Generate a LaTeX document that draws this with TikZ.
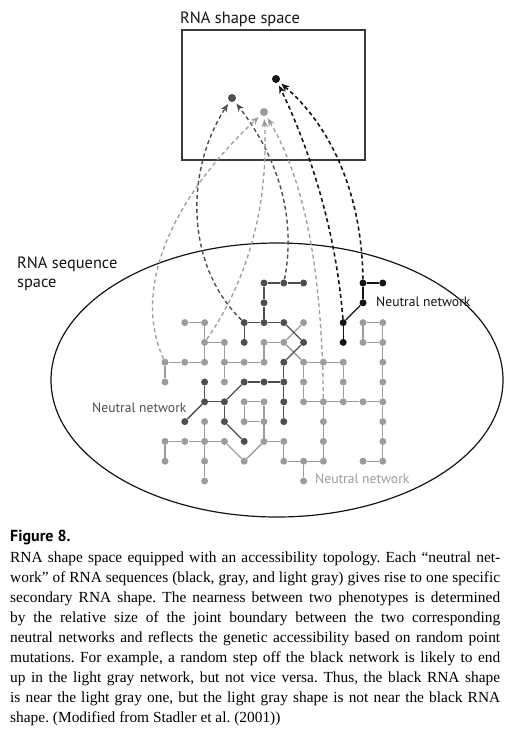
\documentclass[tikz,border=0pt]{standalone}
\usepackage{fontspec}
\setmainfont{Liberation Serif}
\newfontfamily\lab{PT Sans}
\usetikzlibrary{arrows.meta,shapes.geometric}
\definecolor{cblack}{HTML}{141414}
\definecolor{cdark}{HTML}{4E4E4E}
\definecolor{clight}{HTML}{9C9C9C}
\definecolor{cbox}{HTML}{3A3A3A}
\frenchspacing
\begin{document}
\frenchspacing
\begin{tikzpicture}[x=1pt,y=-1pt,
  nb/.style={circle,fill=cblack,inner sep=0pt,minimum size=7pt},
  nd/.style={circle,fill=cdark,inner sep=0pt,minimum size=7pt},
  nl/.style={circle,fill=clight,inner sep=0pt,minimum size=7pt},
  eb/.style={draw=cblack,line width=1.3pt},
  ed/.style={draw=cdark,line width=1.3pt},
  el/.style={draw=clight,line width=1.3pt},
  tip/.style={-{Stealth[length=8pt,width=6.5pt,inset=2.5pt]}},
  ab/.style={tip,draw=cblack,line width=1.6pt,dash pattern=on 4pt off 3pt,shorten >=3pt},
  ad/.style={tip,draw=cdark,line width=1.4pt,dash pattern=on 4pt off 3pt,shorten >=3pt},
  al/.style={tip,draw=clight,line width=1.3pt,dash pattern=on 4pt off 3pt,shorten >=3pt},
  lbl/.style={font=\lab\fontsize{16.4}{18}\selectfont,inner sep=0pt,anchor=base west},
  nnl/.style={font=\lab\fontsize{13.6}{15}\selectfont,inner sep=0pt,anchor=base west},
  captxt/.style={font=\fontsize{15.4}{19.8}\selectfont\frenchspacing,inner sep=0pt,anchor=base west}
]
\useasboundingbox (0,0) rectangle (508,732);

% shape space box
\node[draw=cbox,line width=1.5pt,minimum width=183pt,minimum height=130pt,inner sep=0pt] (box) at (273.5,95) {};
\node[lbl,text=cblack] (tshape) at (180,23) {RNA shape space};

% sequence space ellipse
\node[draw=cblack,line width=1.2pt,ellipse,minimum width=452pt,minimum height=274pt,inner sep=0pt] (seq) at (277,380) {};
\node[lbl,text=cblack] (tseq1) at (17,268) {RNA sequence};
\node[lbl,text=cblack] (tseq2) at (17,287) {space};

% shape dots
\node[nb,minimum size=8pt] (sb) at (276,79) {};
\node[nd,minimum size=8pt] (sd) at (232,98) {};
\node[nl,minimum size=8pt] (sl) at (264,112) {};

% network nodes
\foreach \i/\j in {10/0,11/0,10/1,9/2,9/3}
  \node[nb] (n\i-\j) at ({165+19.8*\i},{283+19.8*\j}) {};
\foreach \i/\j in {5/0,6/0,7/0,5/1,4/2,5/2,6/2,4/3,7/3,6/4,2/5,4/5,5/5,6/5,2/6,3/6,6/6,1/7,3/7,6/7,4/8}
  \node[nd] (n\i-\j) at ({165+19.8*\i},{283+19.8*\j}) {};
\foreach \i/\j in {1/2,2/2,7/2,10/2,11/2,2/3,3/3,5/3,6/3,10/3,11/3,0/4,1/4,2/4,3/4,4/4,5/4,7/4,8/4,9/4,11/4,0/5,3/5,7/5,9/5,11/5,4/6,5/6,7/6,8/6,9/6,10/6,11/6,2/7,4/7,5/7,8/7,11/7,0/8,1/8,2/8,3/8,5/8,6/8,8/8,11/8,0/9,2/9,4/9,6/9,7/9,8/9,10/9,11/9,2/10,7/10}
  \node[nl] (n\i-\j) at ({165+19.8*\i},{283+19.8*\j}) {};

% edges
\foreach \a/\b in {1-2/2-2,2-2/2-3,2-3/2-4,2-3/3-3,3-3/3-4,3-4/3-5,0-4/1-4,1-4/2-4,3-4/4-4,4-4/5-4,5-3/5-4,5-3/6-3,7-2/6-3,6-3/7-4,7-4/8-4,8-4/9-4,0-4/0-5,7-4/7-5,7-5/7-6,9-4/9-5,9-5/9-6,7-6/8-6,8-6/9-6,9-6/10-6,10-6/11-6,10-2/11-2,10-2/10-3,10-3/11-3,11-2/11-3,11-3/11-4,11-4/11-5,11-5/11-6,11-6/11-7,11-7/11-8,11-8/11-9,10-9/11-9,8-6/8-7,8-7/8-8,8-8/8-9,6-9/7-9,7-9/8-9,7-9/7-10,6-8/6-9,5-8/6-8,4-6/5-6,4-6/4-7,4-7/5-7,5-6/5-7,5-7/5-8,3-8/4-9,4-9/5-8,0-8/1-8,1-8/2-8,2-8/3-8,0-8/0-9,2-7/2-8,2-8/2-9,2-9/2-10}
  \draw[el] (n\a) -- (n\b);
\foreach \a/\b in {5-0/6-0,6-0/7-0,5-0/5-1,5-1/5-2,4-2/5-2,5-2/6-2,4-2/4-3,6-2/7-3,7-3/6-4,6-4/6-5,5-5/6-5,4-5/5-5,6-5/6-6,6-6/6-7,3-6/4-5,2-5/2-6,2-6/3-6,2-6/1-7,3-6/3-7,3-7/4-8}
  \draw[ed] (n\a) -- (n\b);
\foreach \a/\b in {10-0/11-0,10-0/10-1,10-1/9-2,9-2/9-3}
  \draw[eb] (n\a) -- (n\b);

% network labels
\node[nnl,text=cblack] (lb) at (376,306) {Neutral network};
\node[nnl,text=cdark] (ld) at (92,412) {Neutral network};
\node[nnl,text=clight] (ll) at (315,483) {Neutral network};

% dashed arrows to shape space
\draw[ab] (n9-2) .. controls (335,220) and (305,140) .. (sb);
\draw[ab] (n10-0) .. controls (362,200) and (335,130) .. (sb);
\draw[ad] (n4-2) .. controls (185,265) and (185,170) .. (sd);
\draw[ad] (n6-0) .. controls (296,220) and (280,160) .. (sd);
\draw[al] (n0-4) .. controls (132,290) and (170,200) .. (sl);
\draw[al] (n2-3) .. controls (255,270) and (268,190) .. (sl);
\draw[al] (n8-6) .. controls (322,290) and (310,190) .. (sl);

% caption
\node[font=\lab\bfseries\fontsize{16}{18}\selectfont,inner sep=0pt,anchor=base west] (fig) at (10,541) {Figure 8.};
\node[captxt] (c1) at (10,562.0) {\hbox to 490pt{RNA shape space equipped with an accessibility topology. Each “neutral net-}};
\node[captxt] (c2) at (10,582.0) {\hbox to 490pt{work” of RNA sequences (black, gray, and light gray) gives rise to one specific}};
\node[captxt] (c3) at (10,602.0) {\hbox to 490pt{secondary RNA shape. The nearness between two phenotypes is determined}};
\node[captxt] (c4) at (10,622.0) {\hbox to 490pt{by the relative size of the joint boundary between the two corresponding}};
\node[captxt] (c5) at (10,642.0) {\hbox to 490pt{neutral networks and reflects the genetic accessibility based on random point}};
\node[captxt] (c6) at (10,662.0) {\hbox to 490pt{mutations. For example, a random step off the black network is likely to end}};
\node[captxt] (c7) at (10,682.0) {\hbox to 490pt{up in the light gray network, but not vice versa. Thus, the black RNA shape}};
\node[captxt] (c8) at (10,702.0) {\hbox to 490pt{is near the light gray one, but the light gray shape is not near the black RNA}};
\node[captxt] (c9) at (10,722.0) {shape. (Modified from Stadler et al. (2001))};
\end{tikzpicture}
\end{document}
